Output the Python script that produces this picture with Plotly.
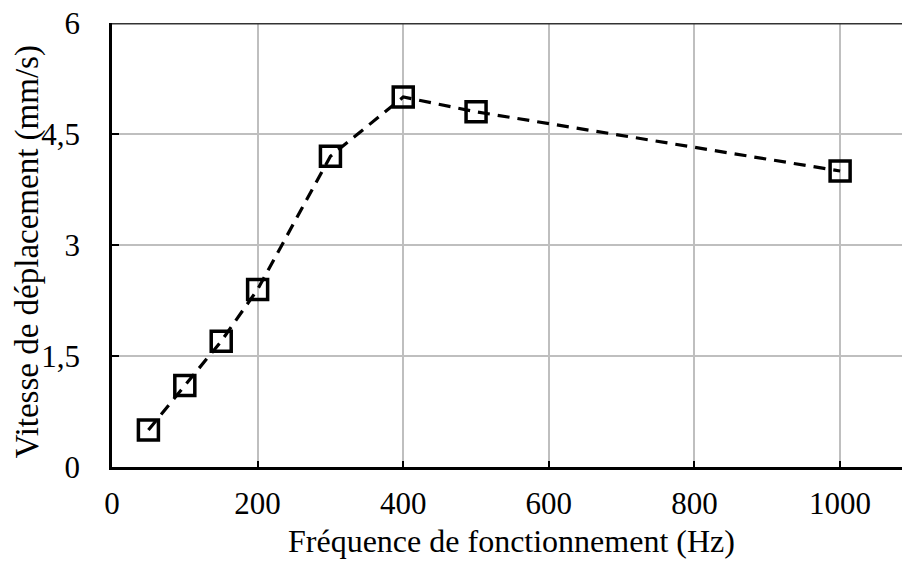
import plotly.graph_objects as go

freq_hz = [50, 100, 150, 200, 300, 400, 500, 1000]
vitesse_mm_s = [0.5, 1.1, 1.7, 2.4, 4.2, 5.0, 4.8, 4.0]

x_ticks = [0, 200, 400, 600, 800, 1000]
x_ticklabels = ["0", "200", "400", "600", "800", "1000"]
y_ticks = [0, 1.5, 3, 4.5, 6]
y_ticklabels = ["0", "1,5", "3", "4,5", "6"]

x_title = "Fréquence de fonctionnement (Hz)"
y_title = "Vitesse de déplacement (mm/s)"

font_family = "Liberation Serif, Times New Roman, serif"

fig = go.Figure()
fig.add_trace(go.Scatter(
    x=freq_hz, y=vitesse_mm_s,
    mode="lines+markers",
    line=dict(color="black", width=3.2, dash="12px,8px"),
    marker=dict(symbol="square-open", size=20, color="black",
                line=dict(color="black", width=3.5)),
    showlegend=False,
))

fig.update_layout(
    width=902, height=564,
    margin=dict(l=112, r=0, t=23, b=97),
    paper_bgcolor="white", plot_bgcolor="white",
    font=dict(family=font_family, size=32, color="black"),
    xaxis=dict(
        range=[0, 1085], tickvals=x_ticks, ticktext=x_ticklabels,
        showgrid=True, gridcolor="#bfbfbf", gridwidth=1.5,
        showline=True, linecolor="black", linewidth=2.5,
        ticks="inside", ticklen=6, tickcolor="black", tickwidth=2,
        zeroline=False, automargin=False,
        tickfont=dict(size=31), ticklabelstandoff=7,
    ),
    yaxis=dict(
        range=[0, 6], tickvals=y_ticks, ticktext=y_ticklabels,
        showgrid=True, gridcolor="#bfbfbf", gridwidth=1.5,
        showline=True, linecolor="black", linewidth=2.5,
        ticks="inside", ticklen=7, tickcolor="black", tickwidth=2,
        zeroline=False, automargin=False,
        tickfont=dict(size=31), ticklabelstandoff=23,
    ),
    annotations=[
        dict(text=x_title, xref="paper", yref="paper", x=0.5051, y=-0.1667,
             xanchor="center", yanchor="middle", showarrow=False,
             font=dict(size=32)),
        dict(text=y_title, xref="paper", yref="paper", x=-0.1076, y=0.486,
             xanchor="center", yanchor="middle", showarrow=False,
             textangle=-90, font=dict(size=33)),
    ],
    shapes=[dict(type="line", xref="paper", yref="y", x0=0, x1=1, y0=6, y1=6,
                 line=dict(color="#333333", width=3))],
)

fig.write_html("out.html", config={"displayModeBar": False},
               post_script="document.body.style.margin='0';document.body.style.overflow='hidden';")
